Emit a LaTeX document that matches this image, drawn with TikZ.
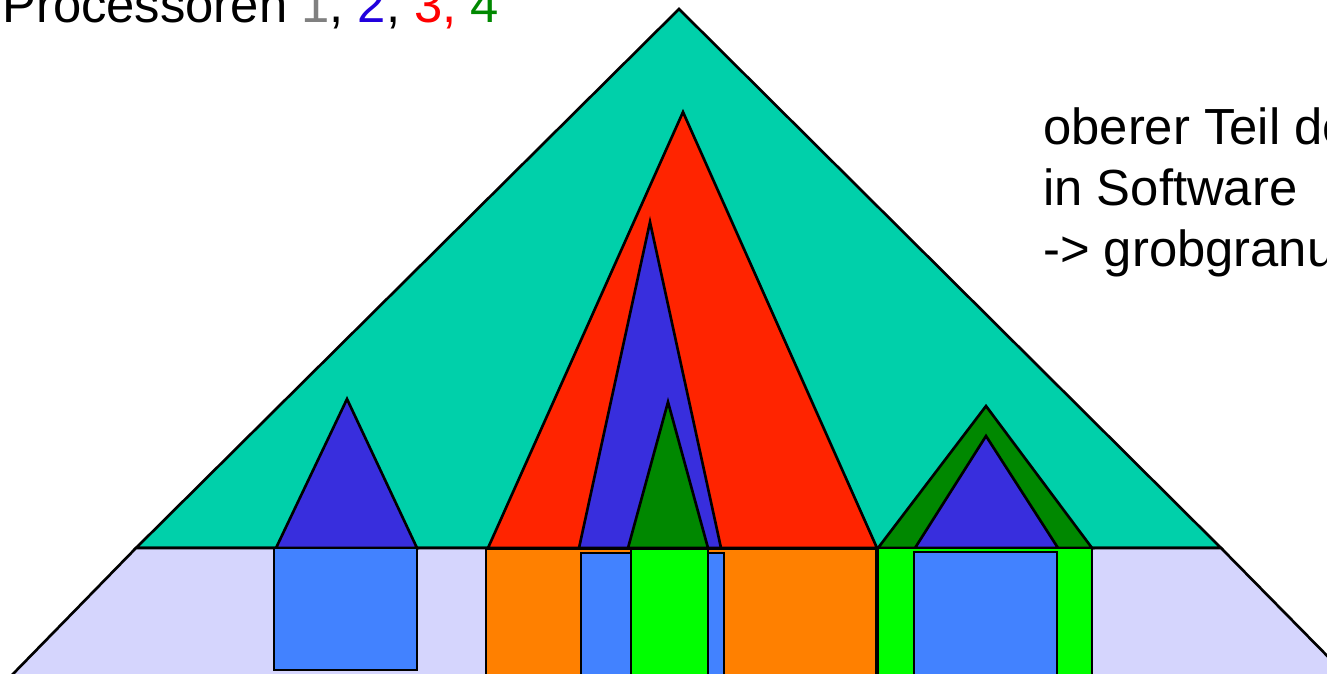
\documentclass[tikz,border=0pt]{standalone}
\usepackage{fontspec}
\setmainfont{Liberation Sans}
\usetikzlibrary{positioning}
\definecolor{sea}{RGB}{0,208,170}
\definecolor{lilac}{RGB}{213,213,253}
\definecolor{violet}{RGB}{56,46,221}
\definecolor{sky}{RGB}{66,130,255}
\definecolor{flame}{RGB}{255,36,0}
\definecolor{tangerine}{RGB}{255,128,0}
\definecolor{forest}{RGB}{0,136,0}
\definecolor{lime}{RGB}{0,255,0}
\definecolor{pgray}{RGB}{128,128,128}
\definecolor{pblue}{RGB}{34,0,221}
\definecolor{pred}{RGB}{255,0,0}
\tikzset{
  part/.style={fill=#1,draw=black,line width=1.5pt,line join=miter},
  part/.default=sea,
  caption/.style={font=\fontsize{28.9}{34}\selectfont,inner sep=0pt,anchor=base west},
}

\begin{document}
\begin{tikzpicture}[x=0.02cm,y=-0.02cm]
  \useasboundingbox (0,0) rectangle (1327,673);
  \clip (0,0) rectangle (1327,673);
  % whole tree and leaf level
  \draw[part=sea] (136,548) -- (679,9) -- (1221,548) -- cycle;
  \draw[part=lilac] (136,548) -- (1221,548) -- (1347,676) -- (11,676) -- cycle;
  % left subtree
  \draw[part=violet] (276,548) -- (347,399) -- (417,548) -- cycle;
  \draw[part=sky] (274,548) rectangle (417,670);
  % middle subtree
  \draw[part=flame] (488,548) -- (683,112) -- (877,548) -- cycle;
  \draw[part=violet] (579,548) -- (650,222) -- (721,548) -- cycle;
  \draw[part=forest] (628,548) -- (668,402) -- (708,548) -- cycle;
  \draw[part=tangerine] (486,549) rectangle (876,680);
  \draw[part=sky] (581,553) rectangle (724,680);
  \draw[part=lime] (631,549) rectangle (708,680);
  % right subtree
  \draw[part=forest] (878,548) -- (986,406) -- (1092,548) -- cycle;
  \draw[part=violet] (915,548) -- (986,436) -- (1058,548) -- cycle;
  \draw[part=lime] (878,548) rectangle (1092,680);
  \draw[part=sky] (914,552) rectangle (1057,680);
  % labels
  \node[caption] (procs) at (2,22) {Processoren {\color{pgray}1}, {\color{pblue}2}, {\color{pred}3,} {\color{forest}4}};
  \node[caption] (upper1) at (1043,144) {oberer Teil des Baumes};
  \node[caption] (upper2) at (1043,205) {in Software};
  \node[caption] (upper3) at (1043,266) {-> grobgranular};
\end{tikzpicture}
\end{document}
